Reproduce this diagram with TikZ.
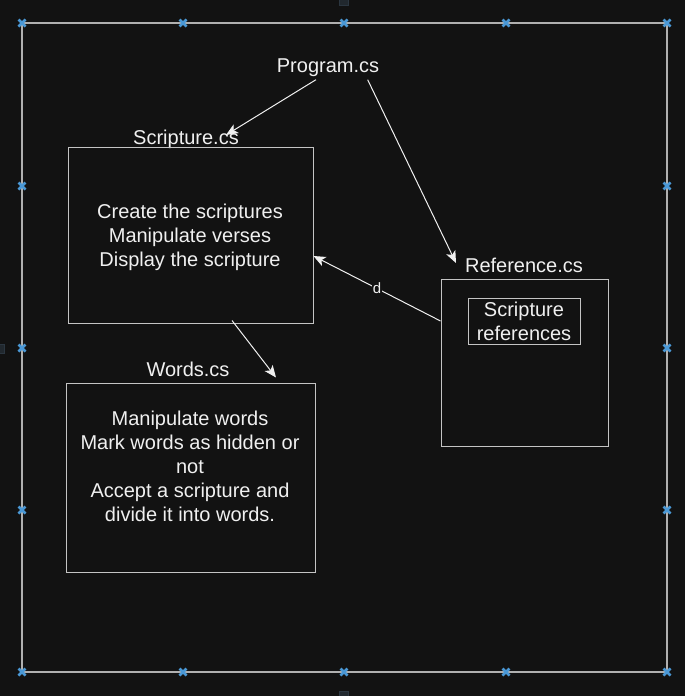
\documentclass[tikz,border=0pt]{standalone}
\usepackage{fontspec}
\setmainfont{Liberation Sans}
\usetikzlibrary{arrows.meta,positioning}
\definecolor{bgcol}{HTML}{121212}
\definecolor{txtcol}{HTML}{F0F0F0}
\definecolor{linecol}{HTML}{C4C4C4}
\definecolor{framecol}{HTML}{B0B0B0}
\definecolor{handlecol}{HTML}{4A98D6}
\definecolor{tabcol}{HTML}{2B3640}

\tikzset{
  classbox/.style={rectangle, draw=linecol, line width=1pt, minimum width=#1},
  title/.style={anchor=base, text=txtcol},
  body/.style={align=center, text=txtcol},
  link/.style={draw=txtcol, line width=1pt, -{Stealth[length=12pt, width=10pt, inset=3pt]}},
}

\begin{document}
\begin{tikzpicture}[x=1pt, y=-1pt, font=\fontsize{20}{24}\selectfont]
  % Background
  \fill[bgcol] (0,0) rectangle (685,696);
  \useasboundingbox (0,0) rectangle (685,696);
  \draw[framecol, line width=1.5pt] (22,23) rectangle (667,672);
  \foreach \x in {22,183,344,506,667} {
    \foreach \y in {23,672} {
      \draw[handlecol, line width=2.5pt] (\x-3.5,\y-3.5) -- (\x+3.5,\y+3.5) (\x-3.5,\y+3.5) -- (\x+3.5,\y-3.5);
    }
  }
  \foreach \y in {186,348,510} {
    \foreach \x in {22,667} {
      \draw[handlecol, line width=2.5pt] (\x-3.5,\y-3.5) -- (\x+3.5,\y+3.5) (\x-3.5,\y+3.5) -- (\x+3.5,\y-3.5);
    }
  }
  \draw[tabcol, fill=tabcol!60!bgcol, line width=1pt] (339,-4) rectangle (348,5);
  \draw[tabcol, fill=tabcol!60!bgcol, line width=1pt] (-4,344) rectangle (4,353);
  \draw[tabcol, fill=tabcol!60!bgcol, line width=1pt] (339,691) rectangle (348,700);
  % Nodes
  \node (program) [title] at (328,72) {Program.cs};
  \node (scrtitle) [title] at (186,144) {Scripture.cs};
  \node (scrbox) [classbox=245pt, minimum height=176pt] at (190.5,235) {};
  \node (scrtext) [body] at (190,237) {Create the scriptures\\Manipulate verses\\Display the scripture};
  \node (reftitle) [title] at (524,272) {Reference.cs};
  \node (refbox) [classbox=167pt, minimum height=167pt] at (524.5,362.5) {};
  \node (refinner) [classbox=112pt, minimum height=46pt, inner sep=0pt, body] at (524,321.5) {Scripture\\references};
  \node (wordtitle) [title] at (188,376) {Words.cs};
  \node (wordbox) [classbox=249pt, minimum height=189pt] at (190.5,477.5) {};
  \node (wordtext) [body] at (190,466) {Manipulate words\\Mark words as hidden or\\not\\Accept a scripture and\\divide it into words.};
  \coordinate (scrtip) at (226,135);
  \coordinate (reftip) at (456,263);
  % Arrow
  \draw[link] ([xshift=-12pt]program.south) -- (scrtip);
  \draw[link] ([xshift=-15pt]program.south east) -- (reftip);
  \draw[link] ([yshift=41.5pt]refbox.west) -- node[midway, fill=bgcol, inner sep=1pt, text=txtcol, font=\fontsize{15}{17}\selectfont] {d} ([yshift=-21pt]scrbox.east);
  \draw[link] ([xshift=41.5pt, yshift=3pt]scrbox.south) -- ([xshift=85.5pt, yshift=5pt]wordbox.north);
\end{tikzpicture}
\end{document}
